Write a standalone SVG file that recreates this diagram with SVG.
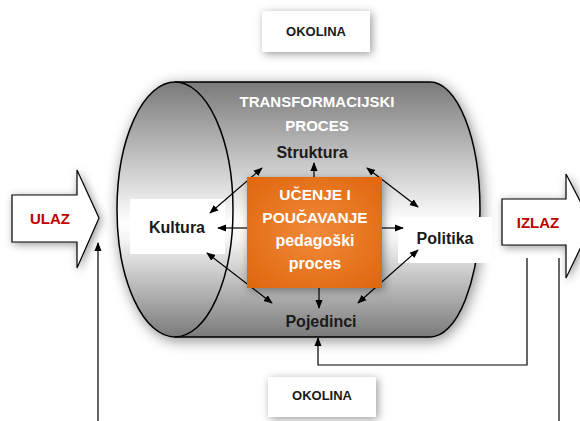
<svg xmlns="http://www.w3.org/2000/svg" width="580" height="421" viewBox="0 0 580 421">
<defs>
<linearGradient id="cylG" x1="0" y1="0" x2="0" y2="1">
<stop offset="0" stop-color="#7a7a7a"/>
<stop offset="0.55" stop-color="#ffffff"/>
<stop offset="0.62" stop-color="#f4f4f4"/>
<stop offset="1" stop-color="#7a7a7a"/>
</linearGradient>
<radialGradient id="orG" cx="0.5" cy="0.5" r="0.7">
<stop offset="0" stop-color="#f08a3a"/>
<stop offset="1" stop-color="#e0650c"/>
</radialGradient>
<filter id="sh" x="-30%" y="-30%" width="160%" height="160%">
<feDropShadow dx="2" dy="3" stdDeviation="7" flood-color="#000" flood-opacity="0.45"/>
</filter>
<filter id="shs" x="-30%" y="-30%" width="160%" height="160%">
<feDropShadow dx="2" dy="2" stdDeviation="4" flood-color="#000" flood-opacity="0.4"/>
</filter>
<marker id="ah" viewBox="0 0 10 10" refX="9" refY="5" markerWidth="9" markerHeight="9" markerUnits="userSpaceOnUse" orient="auto-start-reverse">
<path d="M0,1 L10,5 L0,9 Z" fill="#000"/>
</marker>
<style>
.lbl{font-family:"Liberation Sans",Arial,sans-serif;font-weight:bold;text-anchor:middle;}
.blk{fill:#1a1a1a;font-size:16px;}
.ok{fill:#1a1a1a;font-size:13px;}
.red{fill:#c00000;font-size:15px;}
.wht{fill:#ffffff;}
.ln{stroke:#000;stroke-width:1.2;fill:none;}
.box{fill:#ffffff;}
.blockarrow{fill:#ffffff;stroke:#000;stroke-width:1.2;}
</style>
</defs>
<rect width="580" height="421" fill="#ffffff"/>

<g id="okolina-top">
<rect x="262" y="11" width="108" height="41" class="box" filter="url(#shs)"/>
<text x="316" y="36" class="lbl ok">OKOLINA</text>
</g>

<g id="cylinder">
<path d="M175,82 L430,82 A50,127.5 0 0 1 430,337 L175,337 A58,127.5 0 0 1 175,82 Z" fill="url(#cylG)" stroke="#000" stroke-width="1.5" filter="url(#sh)"/>
<path d="M175,82 A58,127.5 0 0 1 175,337" fill="none" stroke="#000" stroke-width="1.5"/>
<text x="317" y="107" class="lbl wht" font-size="15">TRANSFORMACIJSKI</text>
<text x="317" y="131" class="lbl wht" font-size="15">PROCES</text>
</g>

<g id="ulaz">
<path d="M12,195 L77,195 L77,170 L99,218 L77,268 L77,242 L12,242 Z" class="blockarrow" filter="url(#shs)"/>
<text x="50" y="224" class="lbl red">ULAZ</text>
</g>

<g id="izlaz">
<path d="M502,199 L566,199 L566,174 L592,224 L566,278 L566,245 L502,245 Z" class="blockarrow" filter="url(#shs)"/>
<text x="538" y="228" class="lbl red">IZLAZ</text>
</g>

<g id="kultura">
<rect x="130" y="199" width="95" height="55" class="box"/>
<text x="177" y="233" class="lbl blk">Kultura</text>
</g>

<g id="politika">
<rect x="398" y="217" width="94" height="46" class="box"/>
<text x="445" y="244" class="lbl blk">Politika</text>
</g>

<g id="struktura">
<text x="312" y="158" class="lbl blk">Struktura</text>
</g>

<g id="pojedinci">
<text x="321" y="327" class="lbl blk">Pojedinci</text>
</g>

<g id="connectors">
<line x1="210" y1="213" x2="262" y2="168" class="ln" marker-start="url(#ah)" marker-end="url(#ah)"/>
<line x1="367" y1="168" x2="418" y2="207" class="ln" marker-start="url(#ah)" marker-end="url(#ah)"/>
<line x1="207" y1="253" x2="272" y2="303" class="ln" marker-start="url(#ah)" marker-end="url(#ah)"/>
<line x1="418" y1="250" x2="358" y2="303" class="ln" marker-start="url(#ah)" marker-end="url(#ah)"/>
<line x1="314" y1="178" x2="314" y2="163" class="ln" marker-end="url(#ah)"/>
<line x1="247" y1="228" x2="218" y2="228" class="ln" marker-end="url(#ah)"/>
<line x1="382" y1="228" x2="403" y2="228" class="ln" marker-end="url(#ah)"/>
<line x1="319" y1="288" x2="319" y2="308" class="ln" marker-end="url(#ah)"/>
<line x1="98" y1="421" x2="98" y2="243" class="ln" marker-end="url(#ah)"/>
<line x1="559" y1="258" x2="559" y2="421" class="ln"/>
<polyline points="527,258 527,365 318,365 318,338" class="ln" marker-end="url(#ah)"/>
</g>

<g id="ucenje">
<rect x="247" y="177" width="135" height="111" fill="url(#orG)" filter="url(#shs)"/>
<text x="315" y="200" class="lbl wht" font-size="15.5">UČENJE I</text>
<text x="315" y="223" class="lbl wht" font-size="15.5">POUČAVANJE</text>
<text x="315" y="246" class="lbl wht" font-size="16">pedagoški</text>
<text x="315" y="269" class="lbl wht" font-size="16">proces</text>
</g>

<g id="okolina-bottom">
<rect x="268" y="377" width="108" height="40" class="box" filter="url(#shs)"/>
<text x="322" y="400" class="lbl ok">OKOLINA</text>
</g>
</svg>
